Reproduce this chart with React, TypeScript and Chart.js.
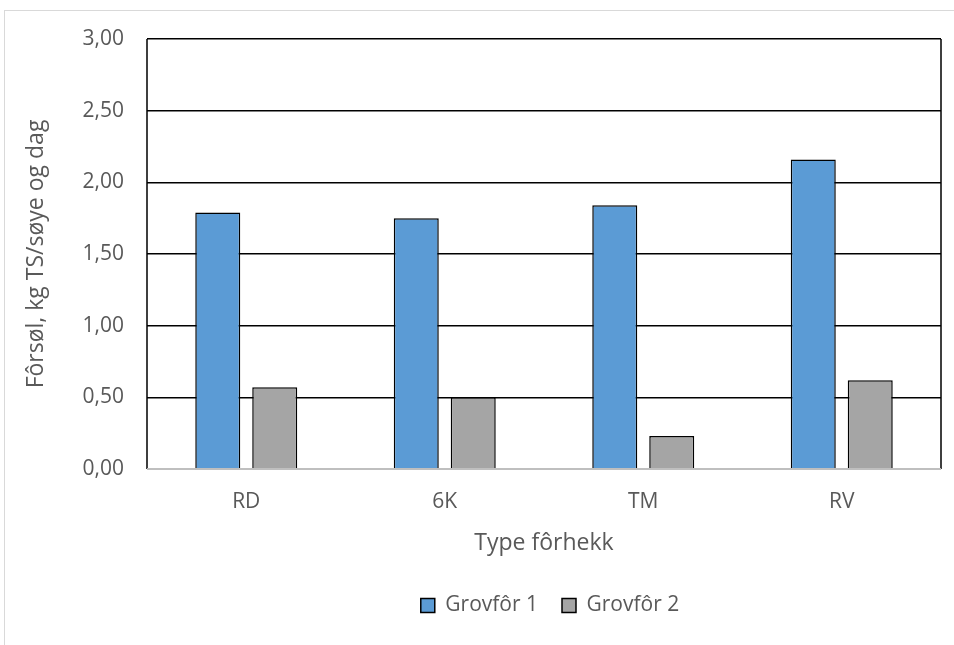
import React, { useEffect, useRef } from "react";
import { Chart, registerables } from "chart.js";

Chart.register(...registerables);

const categories = ["RD", "6K", "TM", "RV"];
const grovfor1 = [1.79, 1.75, 1.84, 2.16];
const grovfor2 = [0.57, 0.5, 0.23, 0.62];
const seriesNames = ["Grovfôr 1", "Grovfôr 2"];
const yTitle = "Fôrsøl, kg TS/søye og dag";
const xTitle = "Type fôrhekk";

const FONT = "'Open Sans', 'DejaVu Sans', sans-serif";
const TEXT = "#595959";

const framePlugin = {
  id: "frame",
  afterLayout(chart: any) {
    const lg = chart.legend;
    if (lg) {
      const d = (chart.chartArea.left + chart.chartArea.right) / 2 - (lg.left + lg.right) / 2 + 6;
      lg.left += d;
      lg.right += d;
    }
  },
  afterDatasetsDraw(chart: any) {
    const { ctx, chartArea } = chart;
    ctx.save();
    ctx.strokeStyle = "#000";
    ctx.lineWidth = 1.5;
    ctx.beginPath();
    ctx.moveTo(chartArea.left, chartArea.top);
    ctx.lineTo(chartArea.left, chartArea.bottom);
    ctx.moveTo(chartArea.right, chartArea.top);
    ctx.lineTo(chartArea.right, chartArea.bottom);
    ctx.stroke();
    ctx.strokeStyle = "#bfbfbf";
    ctx.lineWidth = 2;
    ctx.beginPath();
    ctx.moveTo(chartArea.left, chartArea.bottom);
    ctx.lineTo(chartArea.right, chartArea.bottom);
    ctx.stroke();
    ctx.restore();
  },
};

export default function App() {
  const ref = useRef<HTMLCanvasElement | null>(null);
  useEffect(() => {
    if (!ref.current) return;
    const chart = new Chart(ref.current, {
      type: "bar",
      data: {
        labels: categories,
        datasets: [
          {
            label: seriesNames[0],
            data: grovfor1,
            backgroundColor: "#5B9BD5",
            borderColor: "#000",
            borderWidth: 1.5,
            categoryPercentage: 0.574,
            barPercentage: 0.79,
          },
          {
            label: seriesNames[1],
            data: grovfor2,
            backgroundColor: "#A5A5A5",
            borderColor: "#000",
            borderWidth: 1.5,
            categoryPercentage: 0.574,
            barPercentage: 0.79,
          },
        ],
      },
      options: {
        responsive: false,
        animation: false,
        layout: { padding: { left: 10, right: 13, top: 39, bottom: 19 } },
        font: { family: FONT },
        plugins: {
          tooltip: { enabled: false },
          legend: {
            position: "bottom",
            labels: {
              font: { family: FONT, size: 21 },
              color: TEXT,
              boxWidth: 14,
              boxHeight: 14,
              padding: 24,
              generateLabels: (c: any) =>
                c.data.datasets.map((d: any, i: number) => ({
                  text: d.label,
                  fillStyle: d.backgroundColor,
                  strokeStyle: "#000",
                  lineWidth: 1.5,
                  fontColor: TEXT,
                  datasetIndex: i,
                  hidden: false,
                })),
            },
          },
        },
        scales: {
          x: {
            grid: { display: false, drawTicks: false },
            border: { display: false },
            ticks: {
              font: { family: FONT, size: 21 },
              color: TEXT,
              padding: 20,
            },
            title: {
              display: true,
              text: xTitle,
              font: { family: FONT, size: 23 },
              color: TEXT,
              padding: { top: 4, bottom: 14 },
            },
            afterFit: (s: any) => {
              s.height = 102;
            },
          },
          y: {
            min: 0,
            max: 3,
            ticks: {
              stepSize: 0.5,
              font: { family: FONT, size: 21 },
              color: TEXT,
              padding: 23,
              callback: (v: any) => Number(v).toFixed(2).replace(".", ","),
            },
            grid: {
              drawTicks: false,
              color: (c: any) => (c.tick && c.tick.value === 0 ? "rgba(0,0,0,0)" : "#000"),
              lineWidth: 1.5,
            },
            border: { display: false },
            title: {
              display: true,
              text: yTitle,
              font: { family: FONT, size: 23 },
              color: TEXT,
              padding: { top: 13, bottom: 0 },
            },
            afterFit: (s: any) => {
              s.width = 137;
            },
          },
        },
      },
      plugins: [framePlugin],
    });
    return () => chart.destroy();
  }, []);

  return (
    <div style={{ position: "fixed", left: 0, top: 0, width: 954, height: 645, background: "#fff", overflow: "hidden" }}>
      <div
        style={{
          position: "absolute",
          left: 4,
          top: 10,
          width: 980,
          height: 700,
          border: "1px solid #d9d9d9",
          boxSizing: "border-box",
        }}
      />
      <canvas ref={ref} width={954} height={645} style={{ position: "absolute", left: 0, top: 0 }} />
    </div>
  );
}
